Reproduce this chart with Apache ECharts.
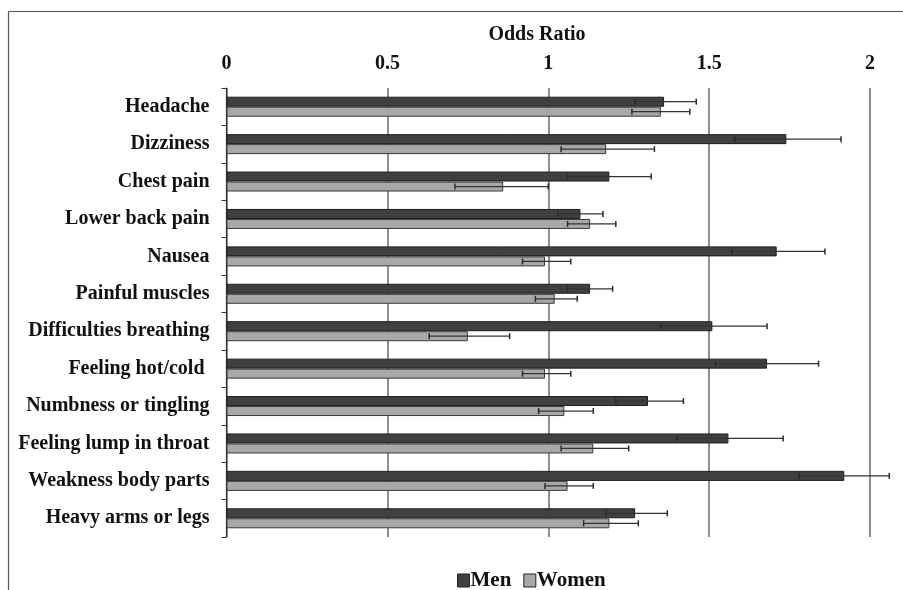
<!DOCTYPE html>
<html><head><meta charset="utf-8">
<script src="https://cdn.jsdelivr.net/npm/echarts@6/dist/echarts.min.js"></script>
<style>html,body{margin:0;padding:0;background:#fff}#c{width:903px;height:590px}</style>
</head><body><div id="c"></div>
<script>
var categories = ["Headache","Dizziness","Chest pain","Lower back pain","Nausea","Painful muscles","Difficulties breathing","Feeling hot/cold ","Numbness or tingling","Feeling lump in throat","Weakness body parts","Heavy arms or legs"];
var men      = [1.36, 1.74, 1.19, 1.10, 1.71, 1.13, 1.51, 1.68, 1.31, 1.56, 1.92, 1.27];
var menLow   = [1.27, 1.58, 1.06, 1.03, 1.57, 1.06, 1.35, 1.52, 1.21, 1.40, 1.78, 1.18];
var menHigh  = [1.46, 1.91, 1.32, 1.17, 1.86, 1.20, 1.68, 1.84, 1.42, 1.73, 2.06, 1.37];
var women    = [1.35, 1.18, 0.86, 1.13, 0.99, 1.02, 0.75, 0.99, 1.05, 1.14, 1.06, 1.19];
var womenLow = [1.26, 1.04, 0.71, 1.06, 0.92, 0.96, 0.63, 0.92, 0.97, 1.04, 0.99, 1.11];
var womenHigh= [1.44, 1.33, 1.00, 1.21, 1.07, 1.09, 0.88, 1.07, 1.14, 1.25, 1.14, 1.28];
var xTicks = [0, 0.5, 1, 1.5, 2];

var FONT = '"Liberation Serif","Times New Roman",serif';
var chart = echarts.init(document.getElementById('c'));

function errData(lo, hi){
  return categories.map(function(c,i){ return [lo[i], hi[i], i]; });
}
function errRender(offset){
  return function(params, api){
    var lo = api.coord([api.value(0), api.value(2)]);
    var hi = api.coord([api.value(1), api.value(2)]);
    var y = lo[1] + offset;
    var cap = 3;
    return {
      type: 'group',
      children: [
        {type:'line', shape:{x1:lo[0],y1:y,x2:hi[0],y2:y}, style:{stroke:'#333',lineWidth:1.2}},
        {type:'line', shape:{x1:lo[0],y1:y-cap,x2:lo[0],y2:y+cap}, style:{stroke:'#2a2a2a',lineWidth:1.5}},
        {type:'line', shape:{x1:hi[0],y1:y-cap,x2:hi[0],y2:y+cap}, style:{stroke:'#2a2a2a',lineWidth:1.5}}
      ]
    };
  };
}

chart.setOption({
  animation: false,
  backgroundColor: '#fff',
  title: {
    text: 'Odds Ratio', left: 532, top: 20, textAlign: 'center',
    textStyle: {fontFamily: FONT, fontWeight: 'bold', fontSize: 20, color: '#111'}
  },
  legend: {
    bottom: -6, left: 452,
    icon: 'rect',
    itemWidth: 12, itemHeight: 13, itemGap: 12,
    data: ['Men', 'Women'],
    itemStyle: {borderColor: '#222', borderWidth: 1},
    textStyle: {fontFamily: FONT, fontWeight: 'bold', fontSize: 21, color: '#111', padding:[0,0,0,-4]}
  },
  graphic: [
    {type:'line', shape:{x1:8.5,y1:11.5,x2:903,y2:11.5}, style:{stroke:'#555',lineWidth:1.2}},
    {type:'line', shape:{x1:8.5,y1:11.5,x2:8.5,y2:590}, style:{stroke:'#555',lineWidth:1.2}}
  ],
  grid: {left: 226.5, right: 33, top: 88, bottom: 53, containLabel: false},
  xAxis: {
    type: 'value', position: 'top', min: 0, max: 2, interval: 0.5,
    axisLine: {show: false}, axisTick: {show: false},
    axisLabel: {
      fontFamily: FONT, fontWeight: 'bold', fontSize: 20, color: '#111', margin: 14,
      formatter: function(v){ return xTicks.indexOf(v) >= 0 ? String(v) : ''; }
    },
    splitLine: {show: true, lineStyle: {color: '#6a6a6a', width: 1.5}}
  },
  yAxis: {
    type: 'category', data: categories, inverse: true,
    axisLine: {show: true, lineStyle: {color: '#333', width: 1.2}},
    axisTick: {show: true, length: 5, lineStyle: {color: '#333'}},
    axisLabel: {fontFamily: FONT, fontWeight: 'bold', fontSize: 20, color: '#111', margin: 17}
  },
  series: [
    {name: 'Men', type: 'bar', data: men, barWidth: 10, barGap: '0%',
     itemStyle: {color: '#404040', borderColor: '#1e1e1e', borderWidth: 1}},
    {name: 'Women', type: 'bar', data: women, barWidth: 10, barGap: '0%',
     itemStyle: {color: '#aaa7a7', borderColor: '#3a3a3a', borderWidth: 1}},
    {name: 'MenErr', type: 'custom', data: errData(menLow, menHigh), renderItem: errRender(-5),
     encode: {x: [0,1], y: 2}, z: 5, silent: true},
    {name: 'WomenErr', type: 'custom', data: errData(womenLow, womenHigh), renderItem: errRender(5),
     encode: {x: [0,1], y: 2}, z: 5, silent: true}
  ]
});
</script></body></html>
